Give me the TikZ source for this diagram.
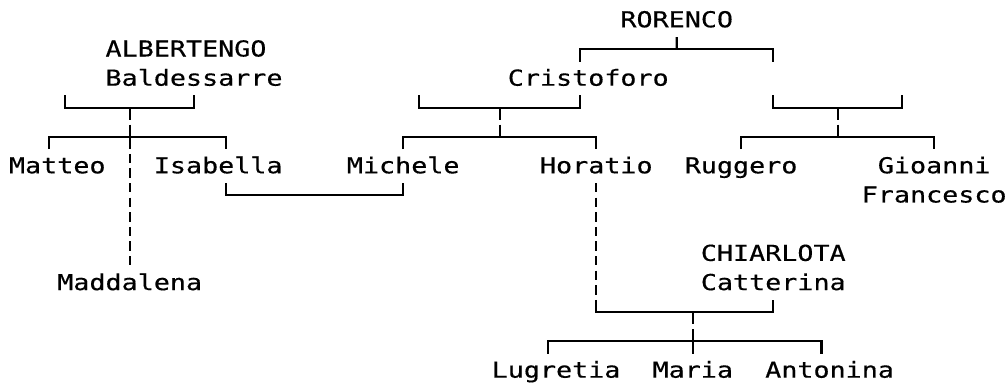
\documentclass[tikz,border=0pt]{standalone}
\usepackage{fontspec}
\newfontfamily\treefont[FakeStretch=1.215, FakeBold=0.4]{DejaVu Sans Mono}
\usetikzlibrary{positioning}

\begin{document}
\begin{tikzpicture}[
    % --- Global Settings ---
    % One unit is one character cell: x counts columns, y counts rows downwards
    x=16.09pt, y=-29.2pt,
    % Monospaced font for all names
    every node/.style={font=\treefont\fontsize{22}{24}\selectfont, inner sep=0pt, outer sep=0pt}
  ]

  % --- Style Definitions ---
  \tikzset{
    % a name, placed by the left edge of its first character cell
    person/.style={anchor=base west},
    % solid family lines
    tie/.style={line width=2.1pt, line cap=butt, line join=miter},
    % dashed line for a child out of wedlock
    natural/.style={tie, dash pattern=on 9.4pt off 5.2pt}
  }

  % Keep the margins of the page
  \useasboundingbox (-1.06,-0.688) rectangle (61.59,12.6);

  % --- Node Placement ---
  % Top generation
  \node[person] (rorenco) at (37.5,0.247) {RORENCO};
  \node[person] (albertengo) at (5.5,1.247) {ALBERTENGO};
  \node[person] (baldessarre) at (5.5,2.247) {Baldessarre};
  \node[person] (cristoforo) at (30.5,2.247) {Cristoforo};

  % Children row
  \node[person] (matteo) at (-0.5,5.247) {Matteo};
  \node[person] (isabella) at (8.5,5.247) {Isabella};
  \node[person] (michele) at (20.5,5.247) {Michele};
  \node[person] (horatio) at (32.5,5.247) {Horatio};
  \node[person] (ruggero) at (41.5,5.247) {Ruggero};
  \node[person] (gioanni) at (53.5,5.247) {Gioanni};
  \node[person] (francesco) at (52.5,6.247) {Francesco};

  % Lower part
  \node[person] (chiarlota) at (42.5,8.247) {CHIARLOTA};
  \node[person] (catterina) at (42.5,9.247) {Catterina};
  \node[person] (maddalena) at (2.5,9.247) {Maddalena};
  \node[person] (lugretia) at (29.5,12.247) {Lugretia};
  \node[person] (maria) at (39.5,12.247) {Maria};
  \node[person] (antonina) at (46.5,12.247) {Antonina};

  % --- Joints ---
  % family joints sit on the bracket of the parents
  \coordinate (rorenco-fam) at (41,1);
  \coordinate (cristoforo-fam) at (30,3);
  \coordinate (second-fam) at (51,3);
  \coordinate (albertengo-fam) at (7,3);
  \coordinate (horatio-fam) at (42,10);

  % --- Path Drawing ---
  % RORENCO and his two sons
  \draw[tie] (rorenco.south |- 0,0.58) -- (rorenco-fam);
  \draw[tie] (35,1.42) |- (47,1) -- (47,1.42);

  % Cristoforo and wife
  \draw[tie] (25,2.58) |- (35,3) -- (35,2.58);
  \draw[tie] (cristoforo-fam) -- ++(0,0.42);
  \draw[tie] (cristoforo-fam) ++(0,0.58) -- ++(0,0.42);
  \draw[tie] (michele.south |- 0,4.42) |- (horatio.south |- 0,4) -- (horatio.south |- 0,4.42);

  % second son and wife
  \draw[tie] (47,2.58) |- (55,3) -- (55,2.58);
  \draw[tie] (second-fam) -- ++(0,0.42);
  \draw[tie] (second-fam) ++(0,0.58) -- ++(0,0.42);
  \draw[tie] (ruggero.south |- 0,4.42) |- (gioanni.south |- 0,4) -- (gioanni.south |- 0,4.42);

  % ALBERTENGO Baldessarre and wife
  \draw[tie] (3,2.58) |- (11,3) -- (11,2.58);
  \draw[tie] (albertengo-fam) -- ++(0,0.42);
  \draw[tie] (albertengo-fam) ++(0,0.58) -- ++(0,0.84);
  \draw[tie] (2,4.42) |- (13,4) -- (13,4.42);
  \draw[natural] (albertengo-fam) ++(0,1.58) -- ++(0,3.84);

  % Isabella marries Michele
  \draw[tie] (13,5.58) |- (michele.south |- 0,6) -- (michele.south |- 0,5.58);

  % Horatio and CHIARLOTA Catterina
  \draw[natural] (horatio.south |- 0,5.58) -- (horatio.south |- 0,9.42);
  \draw[tie] (horatio.south |- 0,9.58) |- (catterina.south |- 0,10) -- (catterina.south |- 0,9.58);
  \draw[tie] (horatio-fam) -- ++(0,0.42);
  \draw[tie] (horatio-fam) ++(0,0.58) -- ++(0,0.84);
  \draw[tie] (33,11.42) |- (50,11) -- (50,11.42);

\end{tikzpicture}
\end{document}
